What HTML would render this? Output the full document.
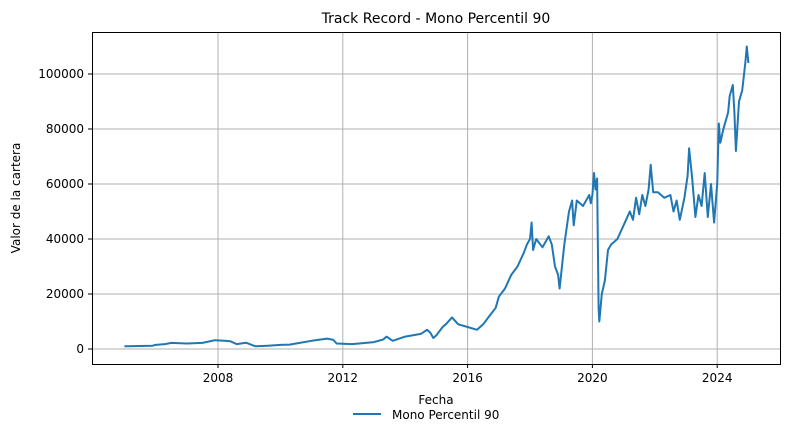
<!DOCTYPE html>
<html><head><meta charset="utf-8"><style>
body{margin:0;background:#fff;}
svg text{font-family:"DejaVu Sans","Liberation Sans",sans-serif;fill:#000;}
</style></head><body>
<svg id="chart" width="790" height="438" xmlns="http://www.w3.org/2000/svg">
<text x="436" y="23" font-size="14" text-anchor="middle">Track Record - Mono Percentil 90</text>
<g id="grid"></g>
<g id="series"></g>
<rect x="92.5" y="32.5" width="688" height="332" fill="none" stroke="#000" stroke-width="1"/>
<g id="ticks"></g>
<text x="436" y="404" font-size="12" text-anchor="middle">Fecha</text>
<text transform="translate(20,198) rotate(-90)" font-size="12" text-anchor="middle">Valor de la cartera</text>
<g>
<line x1="353" y1="414" x2="381" y2="414" stroke="#1f77b4" stroke-width="2"/>
<text x="392" y="419" font-size="12">Mono Percentil 90</text>
</g>
</svg>
<script>
const years=[2005.0,2005.5,2005.9,2006.0,2006.3,2006.5,2007.0,2007.5,2007.9,2008.2,2008.4,2008.6,2008.9,2009.2,2009.6,2010.0,2010.3,2010.5,2011.0,2011.5,2011.7,2011.8,2012.3,2013.0,2013.3,2013.4,2013.6,2014.0,2014.5,2014.7,2014.8,2014.9,2015.0,2015.2,2015.3,2015.5,2015.7,2016.0,2016.3,2016.5,2016.7,2016.9,2017.0,2017.2,2017.4,2017.6,2017.8,2017.9,2018.0,2018.05,2018.1,2018.2,2018.4,2018.6,2018.7,2018.8,2018.9,2018.95,2019.1,2019.25,2019.35,2019.4,2019.5,2019.7,2019.9,2019.95,2020.0,2020.05,2020.1,2020.15,2020.2,2020.22,2020.3,2020.4,2020.5,2020.6,2020.8,2021.0,2021.2,2021.3,2021.4,2021.5,2021.6,2021.7,2021.8,2021.87,2021.95,2022.1,2022.3,2022.5,2022.6,2022.7,2022.8,2022.95,2023.05,2023.1,2023.2,2023.3,2023.4,2023.5,2023.6,2023.7,2023.8,2023.9,2024.0,2024.05,2024.1,2024.2,2024.35,2024.4,2024.5,2024.55,2024.6,2024.7,2024.8,2024.9,2024.95,2025.0];
const values=[1000,1100,1200,1500,1800,2200,2000,2200,3200,3000,2800,1800,2300,1000,1200,1500,1600,2000,3000,3800,3300,2000,1800,2500,3500,4500,3000,4500,5500,7000,6000,4000,5000,8000,9000,11500,9000,8000,7000,9000,12000,15000,19000,22000,27000,30000,35000,38000,40000,46000,36000,40000,37000,41000,38000,30000,27000,22000,38000,50000,54000,45000,54000,52000,56000,53000,56000,64000,58000,62000,15000,10000,20000,25000,36000,38000,40000,45000,50000,47000,55000,49000,56000,52000,58000,67000,57000,57000,55000,56000,50000,54000,47000,55000,63000,73000,62000,48000,56000,52000,64000,48000,60000,46000,60000,82000,75000,80000,86000,92000,96000,86000,72000,90000,94000,104000,110000,104000];
const yTicks=[0,20000,40000,60000,80000,100000];
const xTicks=[2008,2012,2016,2020,2024];
const X=y=>218+(y-2008)*31.2;
const Y=v=>349-v*0.00275;
const NS='http://www.w3.org/2000/svg';
const grid=document.getElementById('grid'),ticks=document.getElementById('ticks'),series=document.getElementById('series');
function mk(t,a){const e=document.createElementNS(NS,t);for(const k in a)e.setAttribute(k,a[k]);return e;}
yTicks.forEach(v=>{
 const g=mk('line',{x1:92,x2:780,y1:Y(v),y2:Y(v),stroke:'#b0b0b0','stroke-width':1});
 
 
 grid.appendChild(g);
 const tk=mk('line',{x1:88,x2:92,y1:Y(v),y2:Y(v),stroke:'#000'});
 
 
 ticks.appendChild(tk);
 const t=mk('text',{x:84,y:Y(v)+4,'font-size':12,'text-anchor':'end'});t.textContent=v;
 
 
 ticks.appendChild(t);
});
xTicks.forEach(v=>{
 const g=mk('line',{x1:X(v),x2:X(v),y1:32,y2:364,stroke:'#b0b0b0','stroke-width':1});
 
 
 grid.appendChild(g);
 const tk=mk('line',{x1:X(v),x2:X(v),y1:364,y2:368,stroke:'#000'});
 
 
 ticks.appendChild(tk);
 const t=mk('text',{x:X(v),y:382,'font-size':12,'text-anchor':'middle'});t.textContent=v;
 
 
 ticks.appendChild(t);
});
const p=mk('polyline',{points:years.map((y,i)=>X(y).toFixed(1)+','+Y(values[i]).toFixed(1)).join(' '),fill:'none',stroke:'#1f77b4','stroke-width':2,'stroke-linejoin':'round'});


series.appendChild(p);
</script>
</body></html>
